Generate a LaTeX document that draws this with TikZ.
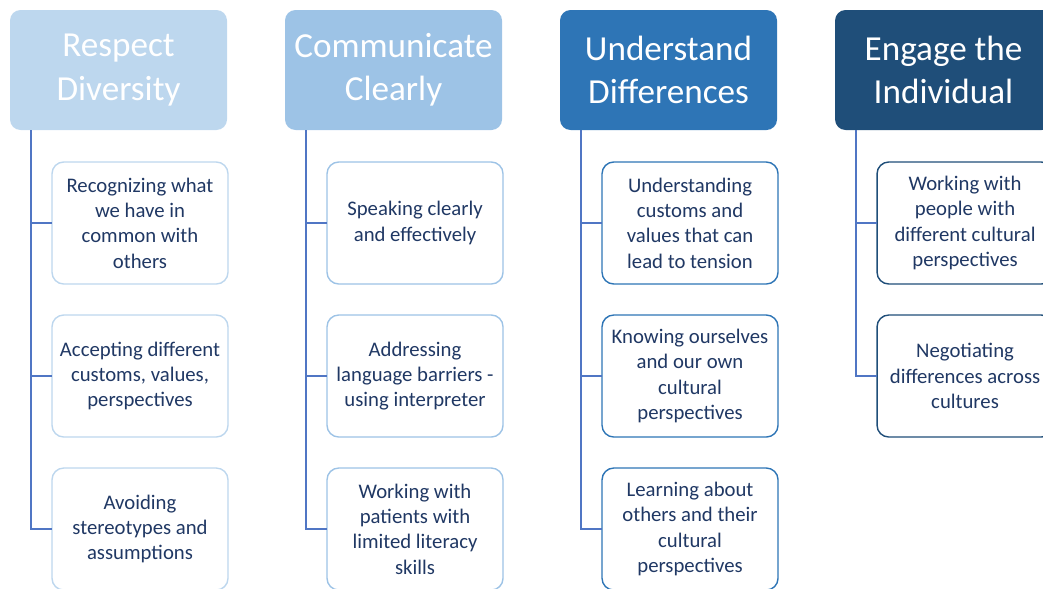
\documentclass[tikz,border=0pt]{standalone}
\usepackage{fontspec}
\setmainfont{Carlito}
\usetikzlibrary{positioning}
\definecolor{ccpale}{RGB}{189,215,238}
\definecolor{ccciel}{RGB}{157,195,230}
\definecolor{ccazur}{RGB}{46,117,182}
\definecolor{ccmarine}{RGB}{31,78,121}
\definecolor{ccencre}{RGB}{32,56,100}
\definecolor{cctrait}{RGB}{80,118,196}

\tikzset{
  titre/.style={rectangle, rounded corners=9pt, minimum width=6.51cm, minimum height=3.6cm,
                text=white, align=center, outer sep=0pt, font=\fontsize{30}{37}\selectfont},
  pilier/.style={rectangle, rounded corners=10pt, draw, line width=1.2pt, fill=white,
                 minimum width=5.28cm, minimum height=3.66cm, text=ccencre, align=center,
                 outer sep=0pt, font=\fontsize{17.7}{21.7}\selectfont},
  lien/.style={draw=cctrait, line width=1.3pt}
}

\begin{document}
\begin{tikzpicture}[x=0.03cm, y=-0.03cm]
  \useasboundingbox (0,0) rectangle (1043,588);
  \clip (0,0) rectangle (1043,588);

  % en-tetes des quatre colonnes
  \node[titre, fill=ccpale, anchor=north west] (h1) at (10,10) {Respect\\Diversity};
  \node[titre, fill=ccciel, right=1.74cm of h1] (h2) {Communicate\\Clearly};
  \node[titre, fill=ccazur, right=1.74cm of h2] (h3) {Understand\\Differences};
  \node[titre, fill=ccmarine, right=1.74cm of h3] (h4) {Engage the\\Individual};

  % colonne 1
  \node[pilier, draw=ccpale, below right=0.96cm and 1.26cm of h1.south west] (c11)
    {Recognizing what\\we have in\\common with\\others};
  \node[pilier, draw=ccpale, below=0.93cm of c11] (c12)
    {Accepting different\\customs, values,\\perspectives};
  \node[pilier, draw=ccpale, below=0.93cm of c12] (c13)
    {Avoiding\\stereotypes and\\assumptions};

  % colonne 2
  \node[pilier, draw=ccciel, below right=0.96cm and 1.26cm of h2.south west] (c21)
    {Speaking clearly\\and effectively};
  \node[pilier, draw=ccciel, below=0.93cm of c21] (c22)
    {Addressing\\language barriers -\\using interpreter};
  \node[pilier, draw=ccciel, below=0.93cm of c22] (c23)
    {Working with\\patients with\\limited literacy\\skills};

  % colonne 3
  \node[pilier, draw=ccazur, below right=0.96cm and 1.26cm of h3.south west] (c31)
    {Understanding\\customs and\\values that can\\lead to tension};
  \node[pilier, draw=ccazur, below=0.93cm of c31] (c32)
    {Knowing ourselves\\and our own\\cultural\\perspectives};
  \node[pilier, draw=ccazur, below=0.93cm of c32] (c33)
    {Learning about\\others and their\\cultural\\perspectives};

  % colonne 4
  \node[pilier, draw=ccmarine, below right=0.96cm and 1.26cm of h4.south west] (c41)
    {Working with\\people with\\different cultural\\perspectives};
  \node[pilier, draw=ccmarine, below=0.93cm of c41] (c42)
    {Negotiating\\differences across\\cultures};

  % traits de rattachement
  \draw[lien] ([xshift=0.63cm]h1.south west) |- (c11.west);
  \draw[lien] ([xshift=0.63cm]h1.south west) |- (c12.west);
  \draw[lien] ([xshift=0.63cm]h1.south west) |- (c13.west);
  \draw[lien] ([xshift=0.63cm]h2.south west) |- (c21.west);
  \draw[lien] ([xshift=0.63cm]h2.south west) |- (c22.west);
  \draw[lien] ([xshift=0.63cm]h2.south west) |- (c23.west);
  \draw[lien] ([xshift=0.63cm]h3.south west) |- (c31.west);
  \draw[lien] ([xshift=0.63cm]h3.south west) |- (c32.west);
  \draw[lien] ([xshift=0.63cm]h3.south west) |- (c33.west);
  \draw[lien] ([xshift=0.63cm]h4.south west) |- (c41.west);
  \draw[lien] ([xshift=0.63cm]h4.south west) |- (c42.west);
\end{tikzpicture}
\end{document}
